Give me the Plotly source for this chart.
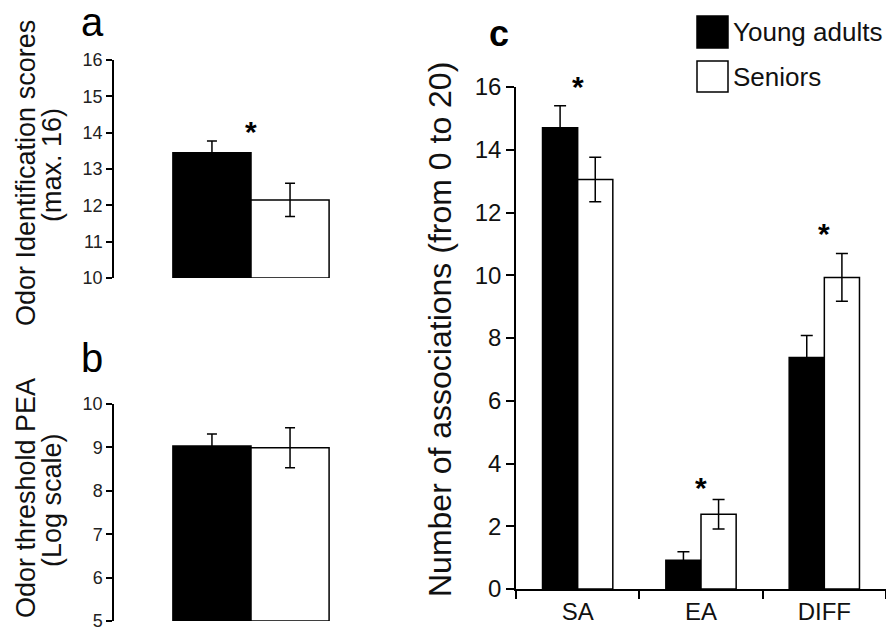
import plotly.graph_objects as go

W, H = 886, 632
def px(x): return x / W
def py(y): return 1 - y / H

FONT = "Liberation Sans, Arial, sans-serif"

groups = ["Young adults", "Seniors"]
colors = ["black", "white"]

# Panel a: odor identification
a_vals = [13.45, 12.15]
a_err = [0.32, 0.46]
a_star = 14.0

# Panel b: odor threshold
b_vals = [9.03, 8.99]
b_err = [0.28, 0.46]

# Panel c: associations
c_cats = ["SA", "EA", "DIFF"]
c_young = [14.7, 0.92, 7.38]
c_young_err = [0.7, 0.27, 0.7]
c_senior = [13.05, 2.38, 9.93]
c_senior_err = [0.71, 0.47, 0.76]
c_stars = [16.0, 3.2, 11.3]

fig = go.Figure()

# Panel a
for i, g in enumerate(groups):
    fig.add_trace(go.Bar(
        x=["a"], y=[a_vals[i] - 10], base=10, name=g, offsetgroup=str(i),
        marker=dict(color=colors[i], line=dict(color="black", width=1.5)),
        error_y=dict(type="data", array=[a_err[i]], color="black", thickness=1.5, width=5),
        xaxis="x", yaxis="y", showlegend=False))
# Panel b
for i, g in enumerate(groups):
    fig.add_trace(go.Bar(
        x=["b"], y=[b_vals[i] - 5], base=5, name=g, offsetgroup=str(i),
        marker=dict(color=colors[i], line=dict(color="black", width=1.5)),
        error_y=dict(type="data", array=[b_err[i]], color="black", thickness=1.5, width=5),
        xaxis="x2", yaxis="y2", showlegend=False))
# Panel c
for i, (g, vals, errs) in enumerate([(groups[0], c_young, c_young_err), (groups[1], c_senior, c_senior_err)]):
    fig.add_trace(go.Bar(
        x=c_cats, y=vals, name=g, offsetgroup=str(i),
        marker=dict(color=colors[i], line=dict(color="black", width=1.5)),
        error_y=dict(type="data", array=errs, color="black", thickness=1.5, width=6),
        xaxis="x3", yaxis="y3", showlegend=False))

tickfont_small = dict(family=FONT, size=18, color="#222")
tickfont_big = dict(family=FONT, size=24, color="#111")

common_y = dict(showgrid=False, zeroline=False, showline=True, linecolor="black", linewidth=1.5,
                ticks="outside", ticklen=6, tickwidth=1.5, tickcolor="black", automargin=False)

fig.update_layout(
    width=W, height=H, margin=dict(l=0, r=0, t=0, b=0, autoexpand=False),
    paper_bgcolor="white", plot_bgcolor="white",
    barmode="group", bargap=0.43, bargroupgap=0,
    font=dict(family=FONT, color="black"),
    xaxis=dict(domain=[px(114), px(388)], anchor="y", visible=False, range=[-0.5, 0.5],
               automargin=False),
    yaxis=dict(domain=[py(278), py(60)], anchor="x", range=[10, 16], dtick=1,
               tickfont=tickfont_small, **common_y),
    xaxis2=dict(domain=[px(114), px(388)], anchor="y2", visible=False, range=[-0.5, 0.5],
                automargin=False),
    yaxis2=dict(domain=[py(621), py(404)], anchor="x2", range=[5, 10], dtick=1,
                tickfont=tickfont_small, **common_y),
    xaxis3=dict(domain=[px(516), 1.0], anchor="y3", range=[-0.5, 2.5], type="category",
                showgrid=False, zeroline=False, showline=True, linecolor="black", linewidth=1.5,
                ticks="outside", ticklen=8, tickwidth=1.5, tickcolor="black", tickson="boundaries",
                ticklabelstandoff=0, automargin=False,
                tickfont=dict(family=FONT, size=24, color="#111")),
    yaxis3=dict(domain=[py(589), py(87)], anchor="x3", range=[0, 16], dtick=2,
                tickfont=tickfont_big, **{**common_y, "ticklen": 8}),
)

def pann(text, x, y, size, angle=0, xanchor="center", color="#111"):
    return dict(text=text, x=px(x), y=py(y), xref="paper", yref="paper", showarrow=False,
                textangle=angle, xanchor=xanchor, yanchor="middle",
                font=dict(size=size, family=FONT, color=color))

ann = []
# panel letters
ann.append(pann("a", 92, 22, 40, color="black"))
ann.append(pann("b", 92, 358, 40, color="black"))
ann.append(pann("<b>c</b>", 499, 33, 36, color="black"))
# y titles
ann.append(pann("Odor Identification scores", 26, 173, 27, angle=-90))
ann.append(pann("(max. 16)", 52, 165, 27, angle=-90))
ann.append(pann("Odor threshold PEA", 26, 498, 27, angle=-90))
ann.append(pann("(Log scale)", 52, 500, 27, angle=-90))
ann.append(pann("Number of associations (from 0 to 20)", 440, 330, 32, angle=-90))
# stars
ann.append(dict(text="<b>*</b>", x="a", y=a_star, xref="x", yref="y", showarrow=False,
                xanchor="center", yanchor="middle", yshift=1,
                font=dict(size=30, family=FONT, color="black")))
for cat, sy in zip(c_cats, c_stars):
    ann.append(dict(text="<b>*</b>", x=cat, y=sy, xref="x3", yref="y3", showarrow=False,
                    xanchor="center", yanchor="middle", yshift=1,
                    font=dict(size=30, family=FONT, color="black")))
# legend text
ann.append(pann("Young adults", 731, 32, 26, xanchor="left"))
ann.append(pann("Seniors", 731, 77, 26, xanchor="left"))
fig.update_layout(annotations=ann)

# legend swatches
fig.add_shape(type="rect", xref="paper", yref="paper", x0=px(697), x1=px(728), y0=py(48), y1=py(16),
              fillcolor="black", line=dict(color="black", width=1.5))
fig.add_shape(type="rect", xref="paper", yref="paper", x0=px(697), x1=px(728), y0=py(92), y1=py(61),
              fillcolor="white", line=dict(color="black", width=1.5))

fig.write_html("out.html")
